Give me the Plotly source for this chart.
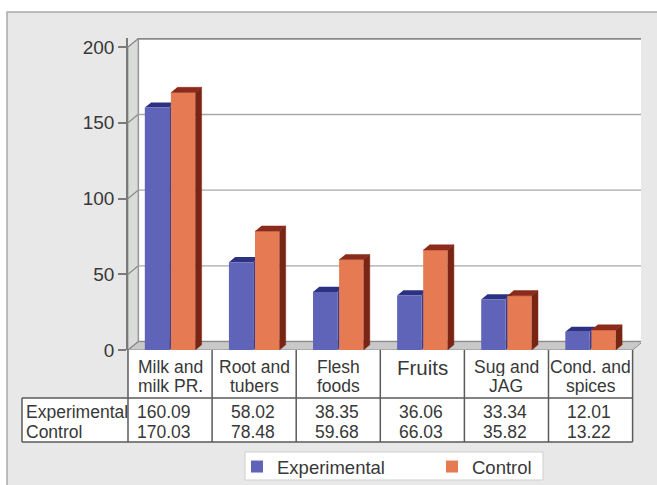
import plotly.graph_objects as go

# ---- data -------------------------------------------------------------
categories = ["Milk and<br>milk PR.", "Root and<br>tubers", "Flesh<br>foods",
              "Fruits", "Sug and<br>JAG", "Cond. and<br>spices"]
experimental = [160.09, 58.02, 38.35, 36.06, 33.34, 12.01]
control = [170.03, 78.48, 59.68, 66.03, 35.82, 13.22]
series_names = ["Experimental", "Control"]
y_ticks = [0, 50, 100, 150, 200]

# ---- layout constants ---------------------------------------------------
W, H = 657, 485
ML, MR, MT, MB = 128, 16, 38, 135
X_RANGE = (-0.5, 5.6)
Y_RANGE = (0, 206)
PW, PH = W - ML - MR, H - MT - MB

WALL_DX, WALL_DY = 0.12, 5.5     # depth of the chart box (data units)
BAR_DX, BAR_DY = 0.075, 3.4      # depth of each bar (data units)
BAR_W = 0.29
OFFSETS = (-0.30, 0.01)

BLUE = dict(front="#6064b9", top="#2c3182", side="#363c8e")
ORANGE = dict(front="#e67a52", top="#8c2b1b", side="#7a2414")
TEXT = "#383838"
FONT = "Liberation Sans, Arial, sans-serif"

# table geometry (pixels)
TABLE_LEFT = 22
HEADER_TOP, HEADER_BOTTOM, TABLE_BOTTOM = H - MB, 398, 442
LINE1_Y, LINE2_Y = 367, 386
ROW_Y = (411, 431)
VALUE_PAD = 0.23                 # right padding of the numbers inside a column (x units)


def paper_x(xp):
    return (xp - ML) / PW


def paper_y(yp):
    return (H - MB - yp) / PH


def data_x_to_paper(x):
    return (x - X_RANGE[0]) / (X_RANGE[1] - X_RANGE[0])


n = len(categories)
xs = list(range(n))

fig = go.Figure()
shapes = []
annotations = []

# grey panel behind everything
shapes.append(dict(type="rect", xref="paper", yref="paper",
                   x0=paper_x(7), x1=paper_x(W + 5), y0=paper_y(H + 5), y1=paper_y(12),
                   fillcolor="#e8e8e8", line=dict(color="#a9a9a9", width=1.5), layer="below"))

# back wall
x_lo, x_hi = -0.5, n - 0.5
top = y_ticks[-1]
shapes.append(dict(type="rect", xref="x", yref="y",
                   x0=x_lo + WALL_DX, x1=x_hi + WALL_DX, y0=WALL_DY, y1=top + WALL_DY,
                   fillcolor="#ffffff", line=dict(color="#8a8a8a", width=2), layer="below"))
# side wall
shapes.append(dict(type="path", xref="x", yref="y",
                   path=f"M{x_lo},0 L{x_lo + WALL_DX},{WALL_DY} L{x_lo + WALL_DX},{top + WALL_DY} "
                        f"L{x_lo},{top} Z",
                   fillcolor="#dadcda", line=dict(color="#9a9a9a", width=1), layer="below"))
# floor
shapes.append(dict(type="path", xref="x", yref="y",
                   path=f"M{x_lo},0 L{x_hi},0 L{x_hi + WALL_DX},{WALL_DY} L{x_lo + WALL_DX},{WALL_DY} Z",
                   fillcolor="#c9c9c9", line=dict(color="#8a8a8a", width=1), layer="below"))

# grid lines on the back wall and tick connectors on the side wall
for v in y_ticks[1:-1]:
    shapes.append(dict(type="line", xref="x", yref="y",
                       x0=x_lo + WALL_DX, x1=x_hi + WALL_DX, y0=v + WALL_DY, y1=v + WALL_DY,
                       line=dict(color="#a8a8a8", width=1.3), layer="below"))
for v in y_ticks:
    shapes.append(dict(type="line", xref="x", yref="y",
                       x0=x_lo, x1=x_lo + WALL_DX, y0=v, y1=v + WALL_DY,
                       line=dict(color="#8a8a8a", width=1.2), layer="below"))


def depth_faces(values, offset):
    tops, sides = [], []
    for x, v in zip(xs, values):
        x0 = x + offset
        x1 = x0 + BAR_W
        tops.append([(x0, v), (x1, v), (x1 + BAR_DX, v + BAR_DY), (x0 + BAR_DX, v + BAR_DY)])
        sides.append([(x1, 0), (x1 + BAR_DX, BAR_DY), (x1 + BAR_DX, v + BAR_DY), (x1, v)])
    return tops, sides


def poly_path(pts):
    return "M" + " L".join(f"{a},{b}" for a, b in pts) + " Z"


# depth faces of the first series sit behind the second series' bars
b_tops, b_sides = depth_faces(experimental, OFFSETS[0])
for poly in b_sides:
    shapes.append(dict(type="path", xref="x", yref="y", path=poly_path(poly),
                       fillcolor=BLUE["side"], line=dict(width=0), layer="below"))
for poly in b_tops:
    shapes.append(dict(type="path", xref="x", yref="y", path=poly_path(poly),
                       fillcolor=BLUE["top"], line=dict(width=0), layer="below"))

# front faces
fig.add_trace(go.Bar(x=xs, y=experimental, name=series_names[0], width=BAR_W,
                     offset=OFFSETS[0], marker=dict(color=BLUE["front"], line=dict(width=0))))
fig.add_trace(go.Bar(x=xs, y=control, name=series_names[1], width=BAR_W,
                     offset=OFFSETS[1], marker=dict(color=ORANGE["front"], line=dict(width=0))))

# depth faces of the second series
o_tops, o_sides = depth_faces(control, OFFSETS[1])
for polys, col in ((o_sides, ORANGE["side"]), (o_tops, ORANGE["top"])):
    px_, py_ = [], []
    for poly in polys:
        for a, b in poly:
            px_.append(a)
            py_.append(b)
        px_.append(None)
        py_.append(None)
    fig.add_trace(go.Scatter(x=px_, y=py_, mode="lines", fill="toself", fillcolor=col,
                             line=dict(color=col, width=0.5), hoverinfo="skip",
                             showlegend=False))

# ---- data table under the chart ---------------------------------------
line_style = dict(color="#5a5a5a", width=1.5)
col_edges = [data_x_to_paper(i - 0.5) for i in range(n + 1)]

# white cell backgrounds
shapes.append(dict(type="rect", xref="paper", yref="paper",
                   x0=col_edges[0], x1=col_edges[-1],
                   y0=paper_y(HEADER_BOTTOM), y1=paper_y(HEADER_TOP),
                   fillcolor="#ffffff", line=dict(width=0), layer="below"))
shapes.append(dict(type="rect", xref="paper", yref="paper",
                   x0=paper_x(TABLE_LEFT), x1=col_edges[-1],
                   y0=paper_y(TABLE_BOTTOM), y1=paper_y(HEADER_BOTTOM),
                   fillcolor="#ffffff", line=dict(width=0), layer="below"))

for i, xe in enumerate(col_edges):
    shapes.append(dict(type="line", xref="paper", yref="paper", x0=xe, x1=xe,
                       y0=paper_y(HEADER_TOP), y1=paper_y(TABLE_BOTTOM), line=line_style))
shapes.append(dict(type="line", xref="paper", yref="paper", x0=paper_x(TABLE_LEFT),
                   x1=paper_x(TABLE_LEFT), y0=paper_y(HEADER_BOTTOM), y1=paper_y(TABLE_BOTTOM),
                   line=line_style))
for yy in (HEADER_BOTTOM, TABLE_BOTTOM):
    shapes.append(dict(type="line", xref="paper", yref="paper", x0=paper_x(TABLE_LEFT),
                       x1=col_edges[-1], y0=paper_y(yy), y1=paper_y(yy), line=line_style))


def cell_text(x, xref, y, text, size, xanchor="center", height=None):
    ann = dict(x=x, xref=xref, xanchor=xanchor, y=paper_y(y), yref="paper", yanchor="middle",
               text=text, showarrow=False, font=dict(size=size, color=TEXT, family=FONT))
    if height:
        ann["height"] = height
    return ann


for i, label in enumerate(categories):
    lines = label.split("<br>")
    if len(lines) == 1:
        annotations.append(cell_text(i, "x", LINE1_Y, lines[0], 20.5))
    else:
        for txt, yy in zip(lines, (LINE1_Y, LINE2_Y)):
            annotations.append(cell_text(i, "x", yy, txt, 17.5, height=18))

for name, values, yy in zip(series_names, (experimental, control), ROW_Y):
    annotations.append(cell_text(paper_x(TABLE_LEFT + 2), "paper", yy, name, 17.5, "left", 19))
    for i, v in enumerate(values):
        annotations.append(cell_text(i + 0.5 - VALUE_PAD, "x", yy, f"{v:.2f}", 17.5,
                                     "right", 19))

# legend frame
shapes.append(dict(type="rect", xref="paper", yref="paper",
                   x0=paper_x(245), x1=paper_x(543), y0=paper_y(480), y1=paper_y(452),
                   fillcolor="#ffffff", line=dict(color="#cfcfcf", width=1)))

fig.update_layout(
    width=W, height=H,
    margin=dict(l=ML, r=MR, t=MT, b=MB, autoexpand=False),
    paper_bgcolor="#ffffff",
    plot_bgcolor="rgba(0,0,0,0)",
    barmode="overlay",
    shapes=shapes,
    annotations=annotations,
    showlegend=True,
    legend=dict(orientation="h", x=paper_x(247), y=paper_y(448), xanchor="left", yanchor="top",
                bgcolor="rgba(0,0,0,0)", borderwidth=0, entrywidth=160, indentation=-10,
                font=dict(size=18.5, color=TEXT, family=FONT)),
    xaxis=dict(range=list(X_RANGE), visible=False, fixedrange=True),
    yaxis=dict(range=list(Y_RANGE), tickvals=y_ticks, ticktext=[str(t) for t in y_ticks],
               showgrid=False, zeroline=False, showline=True, linecolor="#7a7a7a",
               linewidth=1.5, ticks="outside", ticklen=8, tickcolor="#7a7a7a", tickwidth=1.5,
               tickfont=dict(size=19, color=TEXT, family=FONT), fixedrange=True),
)

fig.write_html("out.html")
